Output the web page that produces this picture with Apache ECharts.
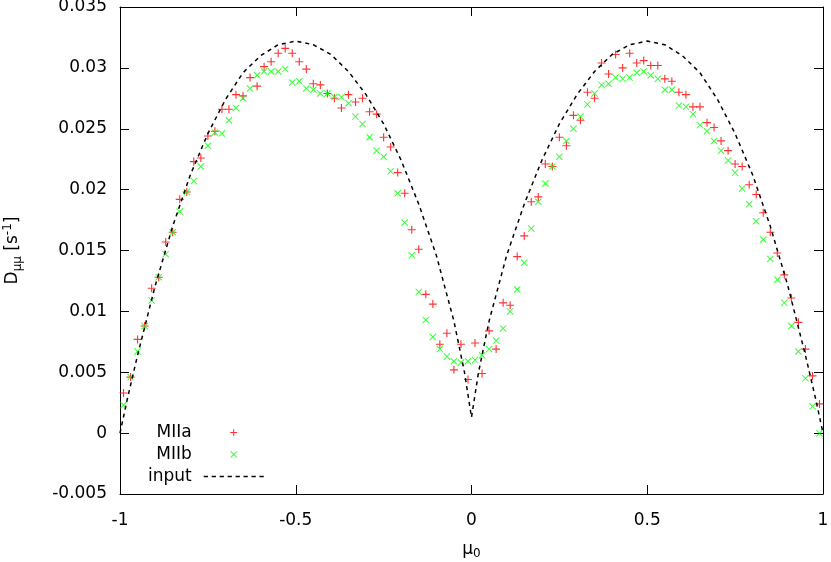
<!DOCTYPE html>
<html>
<head>
<meta charset="utf-8">
<script src="https://cdn.jsdelivr.net/npm/echarts@6/dist/echarts.min.js"></script>
<style>
  html, body { margin: 0; padding: 0; background: #ffffff; }
  #chart { width: 831px; height: 562px; }
</style>
</head>
<body>
<div id="chart"></div>
<script>
  // pitch-angle grid of the two simulations
  var muPts = [
    -0.99, -0.97, -0.95, -0.93, -0.91, -0.89, -0.87, -0.85, -0.83, -0.81,
    -0.79, -0.77, -0.75, -0.73, -0.71, -0.69, -0.67, -0.65, -0.63, -0.61,
    -0.59, -0.57, -0.55, -0.53, -0.51, -0.49, -0.47, -0.45, -0.43, -0.41,
    -0.39, -0.37, -0.35, -0.33, -0.31, -0.29, -0.27, -0.25, -0.23, -0.21,
    -0.19, -0.17, -0.15, -0.13, -0.11, -0.09, -0.07, -0.05, -0.03, -0.01,
    0.01, 0.03, 0.05, 0.07, 0.09, 0.11, 0.13, 0.15, 0.17, 0.19,
    0.21, 0.23, 0.25, 0.27, 0.29, 0.31, 0.33, 0.35, 0.37, 0.39,
    0.41, 0.43, 0.45, 0.47, 0.49, 0.51, 0.53, 0.55, 0.57, 0.59,
    0.61, 0.63, 0.65, 0.67, 0.69, 0.71, 0.73, 0.75, 0.77, 0.79,
    0.81, 0.83, 0.85, 0.87, 0.89, 0.91, 0.93, 0.95, 0.97, 0.99
  ];

  var miiaVals = [
    0.0033, 0.0046, 0.0077, 0.0088, 0.0119, 0.0128, 0.0157, 0.0165, 0.0192, 0.0198,
    0.0223, 0.0226, 0.0244, 0.0248, 0.0266, 0.0266, 0.0278, 0.0277, 0.0292, 0.0285,
    0.0301, 0.0305, 0.0312, 0.0316, 0.0312, 0.0305, 0.0299, 0.0287, 0.0286, 0.0279,
    0.0275, 0.0267, 0.0278, 0.0272, 0.0275, 0.0264, 0.0262, 0.0243, 0.0235, 0.0214,
    0.0197, 0.0167, 0.0151, 0.0114, 0.0106, 0.0073, 0.0082, 0.0052, 0.0073, 0.0044,
    0.0074, 0.0049, 0.0084, 0.0069, 0.0107, 0.0105, 0.0145, 0.0162, 0.0190, 0.0194,
    0.0221, 0.0219, 0.0243, 0.0236, 0.0261, 0.0257, 0.0280, 0.0275, 0.0304, 0.0295,
    0.0311, 0.0300, 0.0312, 0.0304, 0.0306, 0.0302, 0.0302, 0.0291, 0.0289, 0.0280,
    0.0278, 0.0268, 0.0268, 0.0255, 0.0251, 0.0240, 0.0232, 0.0221, 0.0219, 0.0204,
    0.0196, 0.0181, 0.0165, 0.0148, 0.0130, 0.0111, 0.0091, 0.0069, 0.0047, 0.0024
  ];

  var miibVals = [
    0.0023, 0.0046, 0.0067, 0.0088, 0.0109, 0.0128, 0.0147, 0.0165, 0.0182, 0.0198,
    0.0207, 0.0219, 0.0236, 0.0247, 0.0246, 0.0257, 0.0267, 0.0275, 0.0283, 0.0294,
    0.0297, 0.0297, 0.0297, 0.0299, 0.0288, 0.0289, 0.0283, 0.0282, 0.0279, 0.0279,
    0.0276, 0.0276, 0.0271, 0.0260, 0.0254, 0.0243, 0.0232, 0.0227, 0.0215, 0.0197,
    0.0173, 0.0146, 0.0116, 0.0093, 0.0079, 0.0069, 0.0063, 0.0059, 0.0058, 0.0059,
    0.0060, 0.0064, 0.0069, 0.0076, 0.0086, 0.0100, 0.0118, 0.0140, 0.0168, 0.0190,
    0.0205, 0.0219, 0.0227, 0.0240, 0.0250, 0.0260, 0.0270, 0.0279, 0.0286, 0.0287,
    0.0292, 0.0291, 0.0292, 0.0296, 0.0297, 0.0294, 0.0291, 0.0282, 0.0282, 0.0269,
    0.0268, 0.0262, 0.0253, 0.0248, 0.0240, 0.0232, 0.0224, 0.0214, 0.0201, 0.0188,
    0.0174, 0.0159, 0.0143, 0.0126, 0.0107, 0.0088, 0.0067, 0.0045, 0.0022, 0.0000
  ];

  // dashed "input" curve
  var inputMu = [
    -1, -0.98, -0.95, -0.9, -0.85, -0.8, -0.75, -0.7, -0.65, -0.6, -0.55, -0.5,
    -0.45, -0.4, -0.35, -0.3, -0.25, -0.2, -0.15, -0.1, -0.05, -0.02, 0,
    0.02, 0.05, 0.1, 0.15, 0.2, 0.25, 0.3, 0.35, 0.4, 0.45,
    0.5, 0.55, 0.6, 0.65, 0.7, 0.75, 0.8, 0.85, 0.9, 0.95, 0.98, 1
  ];
  var inputVals = [
    0, 0.0027, 0.0064, 0.0121, 0.0170, 0.0212, 0.0246, 0.0274, 0.0296, 0.0310, 0.0319, 0.0322,
    0.0319, 0.0311, 0.0297, 0.0278, 0.0254, 0.0224, 0.0188, 0.0146, 0.0092, 0.0050, 0.0013,
    0.0050, 0.0092, 0.0146, 0.0188, 0.0224, 0.0254, 0.0278, 0.0297, 0.0311, 0.0319,
    0.0322, 0.0319, 0.0310, 0.0296, 0.0274, 0.0246, 0.0212, 0.0170, 0.0121, 0.0064, 0.0027, 0
  ];

  var xTicks = [-1, -0.5, 0, 0.5, 1];
  var yTickStep = 0.005;

  var FONT = 'DejaVu Sans';
  var plusSym = 'path://M0,4.3H10V5.7H0Z M4.3,0H5.7V10H4.3Z';
  var crossSym = 'path://M0,1L1,0L10,9L9,10Z M9,0L10,1L1,10L0,9Z';
  // gnuplot style dashed sample for the key
  var dashSym = 'path://M0,0h4v1.5h-4z M7.5,0h4v1.5h-4z M15,0h4v1.5h-4z M22.5,0h4v1.5h-4z' +
    ' M30,0h4v1.5h-4z M37.5,0h4v1.5h-4z M45,0h4v1.5h-4z M52.5,0h4v1.5h-4z';

  function pairs(xs, ys) {
    var out = [];
    for (var i = 0; i < xs.length; i++) out.push([xs[i], ys[i]]);
    return out;
  }

  var chart = echarts.init(document.getElementById('chart'));

  var tickStyle = { inside: true, length: 9, lineStyle: { color: '#000', width: 1 } };
  var lineStyle = { show: true, onZero: false, lineStyle: { color: '#000', width: 1 } };

  var option = {
    animation: false,
    backgroundColor: '#ffffff',
    grid: { left: 120, right: 8, top: 7, bottom: 68, outerBoundsMode: 'none', containLabel: false },
    legend: {
      data: ['MIIa', 'MIIb', { name: 'input', icon: dashSym }],
      orient: 'vertical',
      left: 143,
      top: 419,
      align: 'right',
      itemWidth: 60,
      itemHeight: 7,
      itemGap: 5,
      textStyle: { fontFamily: FONT, fontSize: 17, color: '#000', width: 50, align: 'right', padding: [0, 7, 0, 0] }
    },
    xAxis: [
      {
        type: 'value',
        min: xTicks[0], max: xTicks[xTicks.length - 1], interval: 0.5,
        name: '{a|μ}{sub|0}',
        nameLocation: 'middle',
        nameGap: 46,
        nameTextStyle: {
          rich: {
            a: { fontFamily: FONT, fontSize: 17, color: '#000' },
            sub: { fontFamily: FONT, fontSize: 12, color: '#000', verticalAlign: 'bottom', padding: [8, 0, 0, 0] }
          }
        },
        axisLine: lineStyle,
        axisTick: tickStyle,
        splitLine: { show: false },
        axisLabel: { fontFamily: FONT, fontSize: 17, color: '#000', margin: 18 }
      },
      {
        type: 'value', position: 'top',
        min: xTicks[0], max: xTicks[xTicks.length - 1], interval: 0.5,
        axisLine: lineStyle, axisTick: tickStyle,
        splitLine: { show: false }, axisLabel: { show: false }
      }
    ],
    yAxis: [
      {
        type: 'value',
        min: -0.005, max: 0.035, interval: yTickStep,
        name: '{a|D}{sub|μμ}{a| [s}{sup|-1}{a|]}',
        nameLocation: 'middle',
        nameGap: 96,
        nameRotate: 90,
        nameTextStyle: {
          rich: {
            a: { fontFamily: FONT, fontSize: 17, color: '#000' },
            sub: { fontFamily: FONT, fontSize: 12, color: '#000', padding: [10, 0, 0, 0] },
            sup: { fontFamily: FONT, fontSize: 12, color: '#000', padding: [0, 0, 10, 0] }
          }
        },
        axisLine: lineStyle,
        axisTick: tickStyle,
        splitLine: { show: false },
        axisLabel: {
          fontFamily: FONT, fontSize: 17, color: '#000', margin: 13,
          formatter: function (v) { return String(parseFloat(v.toFixed(3))); }
        }
      },
      {
        type: 'value', position: 'right',
        min: -0.005, max: 0.035, interval: yTickStep,
        axisLine: lineStyle, axisTick: tickStyle,
        splitLine: { show: false }, axisLabel: { show: false }
      }
    ],
    series: [
      {
        name: 'MIIa',
        type: 'scatter',
        symbol: plusSym,
        symbolSize: 8,
        itemStyle: { color: '#ff0000' },
        data: pairs(muPts, miiaVals)
      },
      {
        name: 'MIIb',
        type: 'scatter',
        symbol: crossSym,
        symbolSize: 7,
        itemStyle: { color: '#00ff00' },
        data: pairs(muPts, miibVals)
      },
      {
        name: 'input',
        type: 'line',
        symbol: 'none',
        smooth: false,
        lineStyle: { color: '#000', width: 1.5, type: [4, 4] },
        itemStyle: { color: '#000' },
        data: pairs(inputMu, inputVals)
      }
    ]
  };

  chart.setOption(option);
  window.addEventListener('resize', function () {
    chart.resize();
  });
</script>
</body>
</html>
